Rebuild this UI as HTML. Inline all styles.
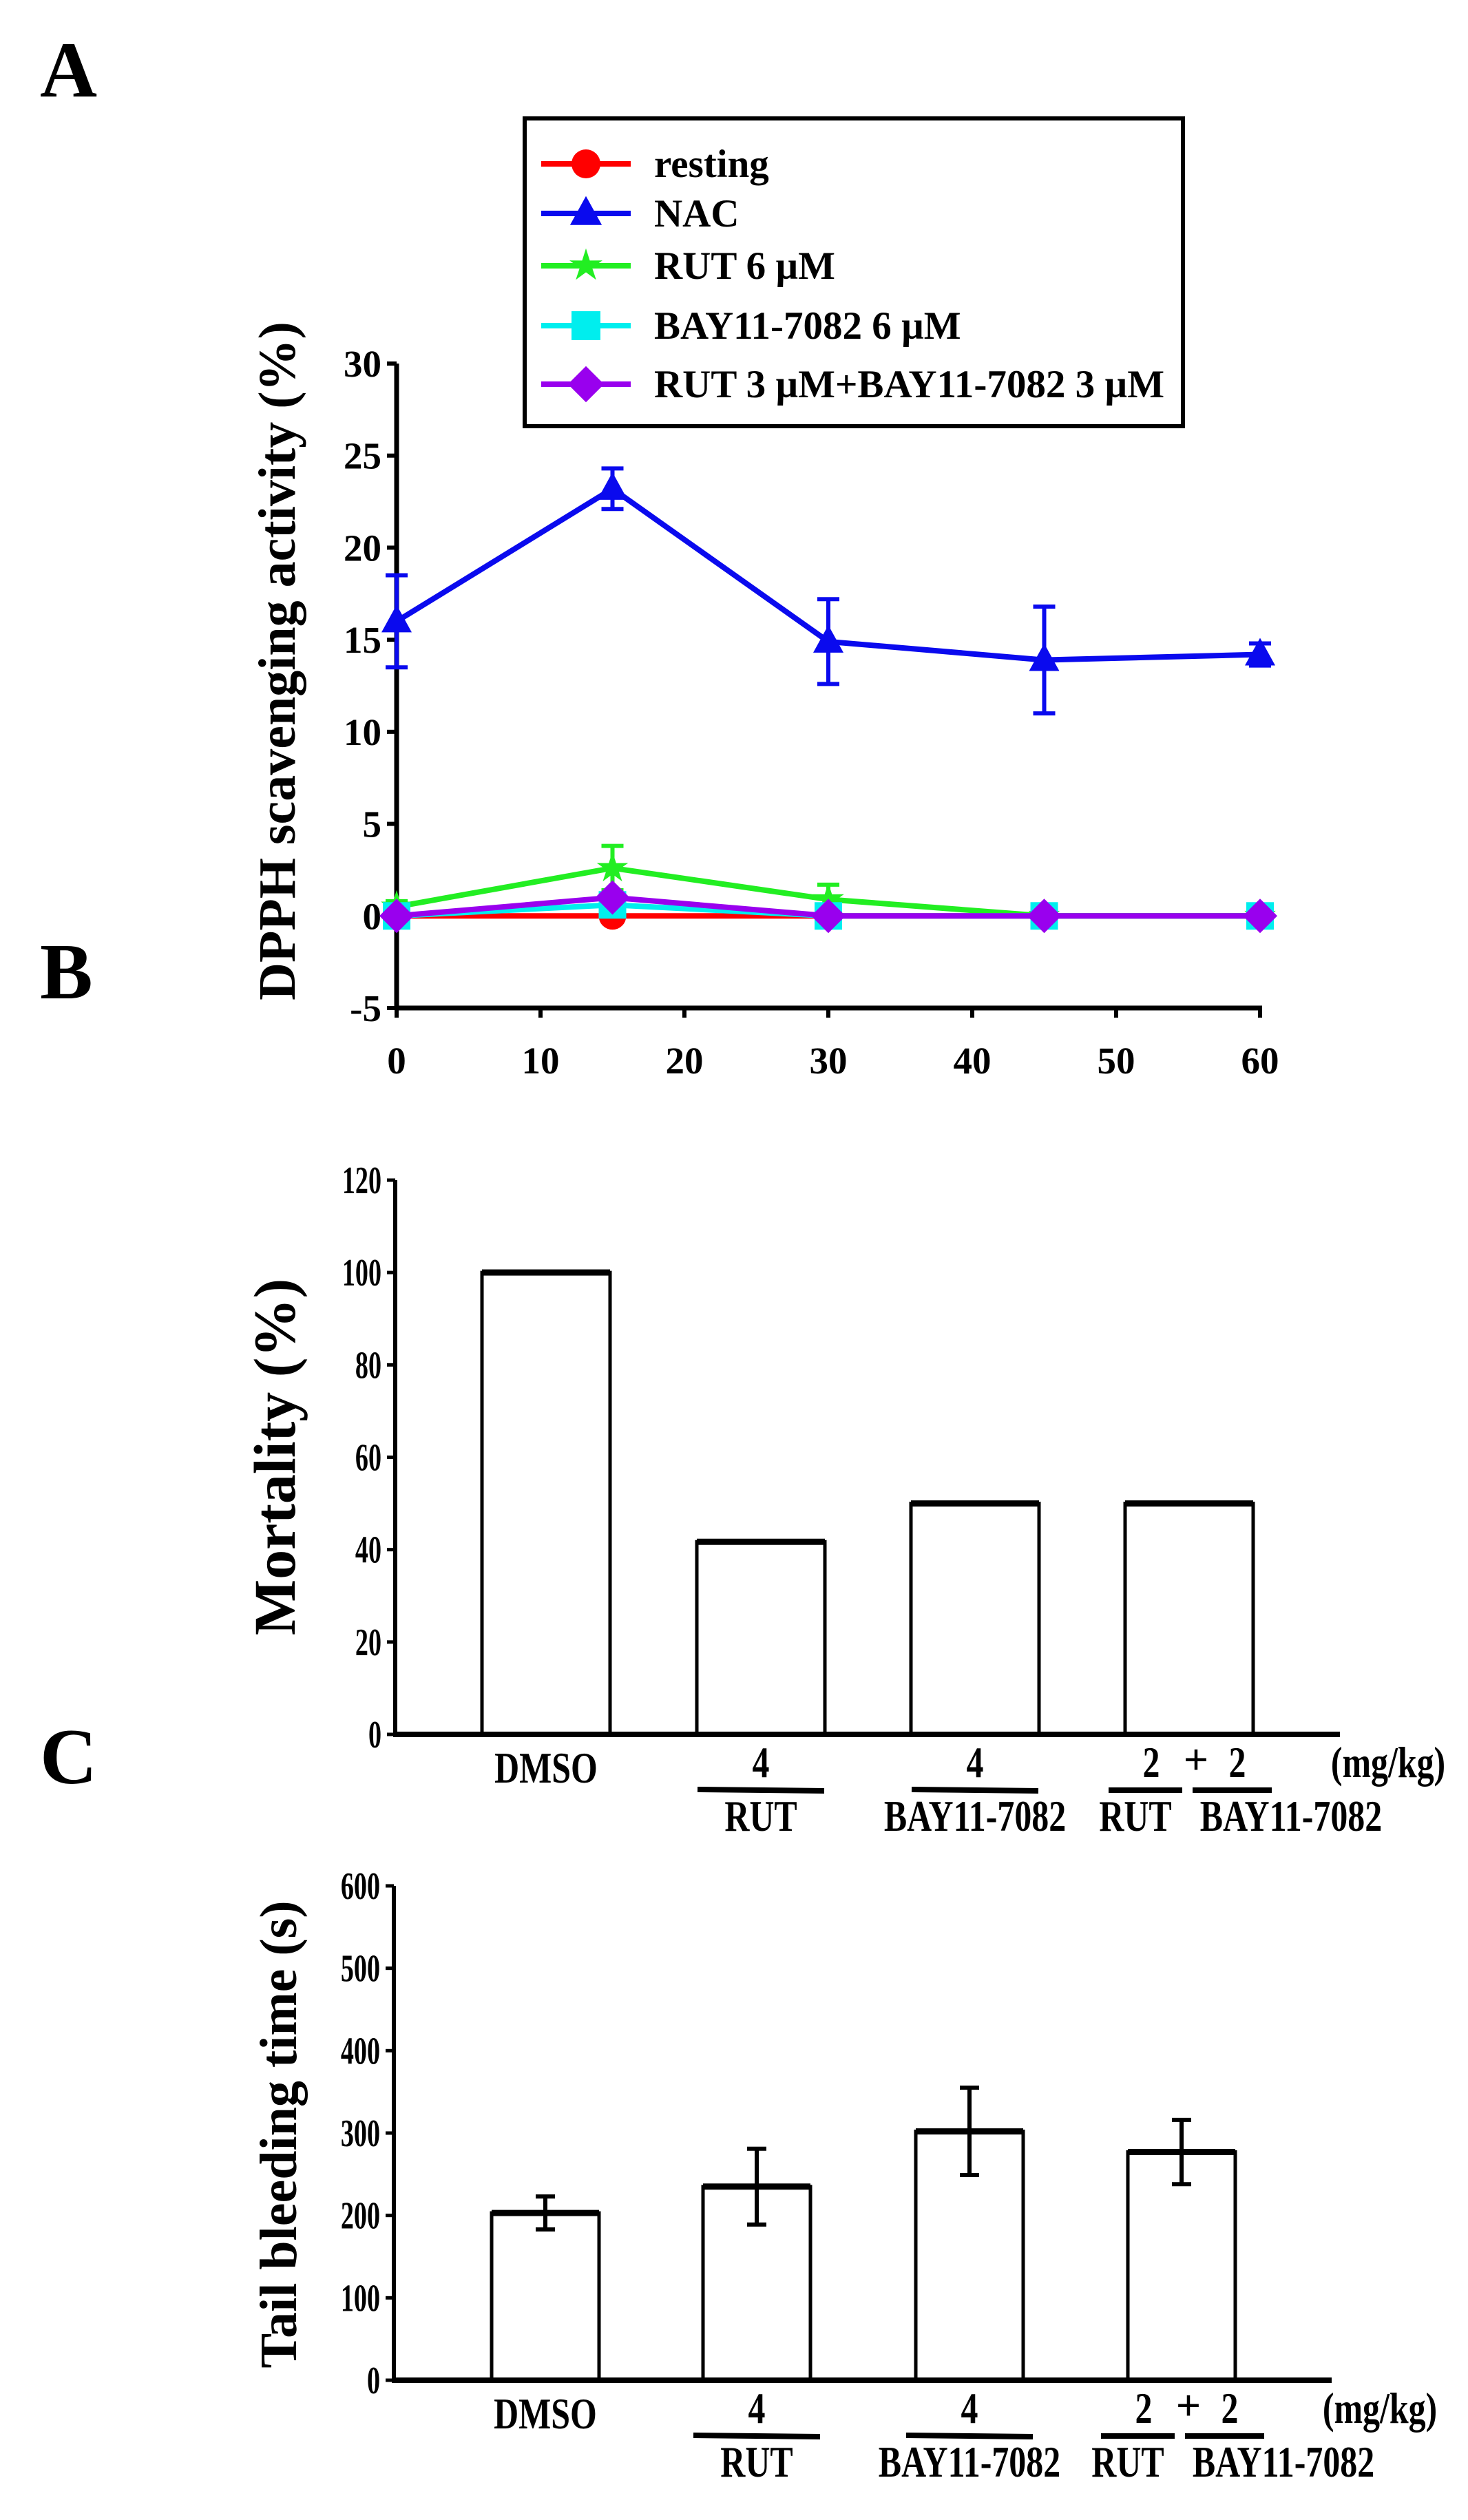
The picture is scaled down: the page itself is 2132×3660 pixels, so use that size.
<!DOCTYPE html>
<html><head><meta charset="utf-8">
<style>
html,body{margin:0;padding:0;background:#fff;}
svg{display:block;font-family:"Liberation Serif",serif;font-weight:bold;}
</style></head>
<body>
<svg id="fig" width="2132" height="3660" viewBox="0 0 2132 3660" xmlns="http://www.w3.org/2000/svg">
<rect width="2132" height="3660" fill="#fff"/>
<text x="58" y="140" font-size="115">A</text>
<text x="58" y="1450" font-size="115">B</text>
<text x="58" y="2590" font-size="115">C</text>
<g id="gA"></g>
<g id="gB"></g>
<g id="gC"></g>
</svg>
<script>
// Panel A data
const timesA = [0, 15, 30, 45, 60];
const xTicksA = [0, 10, 20, 30, 40, 50, 60];
const yTicksA = [-5, 0, 5, 10, 15, 20, 25, 30];
const seriesNames = ["resting", "NAC", "RUT 6 \u00b5M", "BAY11-7082 6 \u00b5M", "RUT 3 \u00b5M+BAY11-7082 3 \u00b5M"];
const restingVals = [0, 0, 0, 0, 0];
const nacVals = [16, 23.2, 14.9, 13.9, 14.2];
const nacErr = [2.5, 1.1, 2.3, 2.9, 0.6];
const rutVals = [0.5, 2.6, 0.9, 0, 0];
const rutErr = [0.3, 1.2, 0.8, 0, 0];
const bayVals = [0, 0.6, 0, 0, 0];
const comboVals = [0, 1.0, 0, 0, 0];
// Panel B data
const categoriesB = ["DMSO", "RUT", "BAY11-7082", "RUT+BAY11-7082"];
const mortalityVals = [100, 41.7, 50, 50];
const yTicksB = [0, 20, 40, 60, 80, 100, 120];
// Panel C data
const bleedVals = [203, 235, 302, 277];
const bleedErr = [20, 46, 53, 39];
const yTicksC = [0, 100, 200, 300, 400, 500, 600];

const NS = "http://www.w3.org/2000/svg";
function mk(parent, tag, attrs, txt){
  const e = document.createElementNS(NS, tag);
  for (const k in attrs) e.setAttribute(k, attrs[k]);
  if (txt !== undefined) e.textContent = txt;
  parent.appendChild(e);
  return e;
}

// ---------- Panel A ----------
(function(){
  const g = document.getElementById('gA');
  const x0 = 576, x1 = 1830, ymin = -5, ymax = 30, yTop = 528, yBot = 1464;
  const X = t => x0 + (t - 0) / 60 * (x1 - x0);
  const Y = v => yBot - (v - ymin) / (ymax - ymin) * (yBot - yTop);
  let e;
  e = mk(g, 'line', {x1:x0, y1:yTop, x2:x0, y2:yBot, stroke:'#000', 'stroke-width':7});
   
  e = mk(g, 'line', {x1:x0-3, y1:yBot, x2:x1+3, y2:yBot, stroke:'#000', 'stroke-width':7});
   
  yTicksA.forEach(v => {
    mk(g, 'line', {x1:x0-14, y1:Y(v), x2:x0, y2:Y(v), stroke:'#000', 'stroke-width':6});
    e = mk(g, 'text', {x:x0-22, y:Y(v)+19, 'font-size':55, 'text-anchor':'end'}, v);
     
  });
  xTicksA.forEach(t => {
    mk(g, 'line', {x1:X(t), y1:yBot, x2:X(t), y2:yBot+14, stroke:'#000', 'stroke-width':6});
    e = mk(g, 'text', {x:X(t), y:yBot+95, 'font-size':55, 'text-anchor':'middle'}, t);
     
  });
  e = mk(g, 'text', {x:0, y:0, 'font-size':76, 'text-anchor':'middle', transform:'translate(428,960) rotate(-90)'}, 'DPPH scavenging activity (%)');
   

  function marker(parent, type, cx, cy, col, s){
    if (type==='circle') return mk(parent,'circle',{cx:cx,cy:cy,r:s,fill:col});
    if (type==='tri') return mk(parent,'polygon',{points:`${cx},${cy-s*1.2} ${cx-s*1.1},${cy+s*0.8} ${cx+s*1.1},${cy+s*0.8}`,fill:col});
    if (type==='square') return mk(parent,'rect',{x:cx-s,y:cy-s,width:2*s,height:2*s,fill:col});
    if (type==='diamond') return mk(parent,'polygon',{points:`${cx},${cy-s*1.25} ${cx+s*1.25},${cy} ${cx},${cy+s*1.25} ${cx-s*1.25},${cy}`,fill:col});
    if (type==='star'){
      let p=[]; for(let i=0;i<10;i++){const r=i%2?s*0.45:s*1.2;const a=-Math.PI/2+i*Math.PI/5;p.push((cx+r*Math.cos(a))+','+(cy+r*Math.sin(a)));}
      return mk(parent,'polygon',{points:p.join(' '),fill:col});
    }
  }
  const series = [
    {name:'resting', vals:restingVals, err:null, col:'#ff0000', m:'circle'},
    {name:'rut', vals:rutVals, err:rutErr, col:'#22ee22', m:'star'},
    {name:'bay', vals:bayVals, err:null, col:'#00eeee', m:'square'},
    {name:'combo', vals:comboVals, err:null, col:'#9900ee', m:'diamond'},
    {name:'nac', vals:nacVals, err:nacErr, col:'#0a0aee', m:'tri'}
  ];
  series.forEach(s => {
    const sg = mk(g, 'g', {});
     
    if (s.err) timesA.forEach((t,i) => {
      if (!s.err[i]) return;
      const yt = Y(s.vals[i]+s.err[i]), yb = Y(s.vals[i]-s.err[i]);
      mk(sg,'line',{x1:X(t),y1:yt,x2:X(t),y2:yb,stroke:s.col,'stroke-width':6});
      mk(sg,'line',{x1:X(t)-16,y1:yt,x2:X(t)+16,y2:yt,stroke:s.col,'stroke-width':6});
      mk(sg,'line',{x1:X(t)-16,y1:yb,x2:X(t)+16,y2:yb,stroke:s.col,'stroke-width':6});
    });
    const pts = timesA.map((t,i)=>X(t)+','+Y(s.vals[i])).join(' ');
    mk(sg,'polyline',{points:pts,fill:'none',stroke:s.col,'stroke-width':8});
    timesA.forEach((t,i)=>{
      const p = marker(sg, s.m, X(t), Y(s.vals[i]), s.col, 20);
       
    });
  });
  // legend
  const lg = mk(g,'g',{});
   
  mk(lg,'rect',{x:762,y:172,width:956,height:447,fill:'#fff',stroke:'#000','stroke-width':6});
  const lcols = ['#ff0000','#0a0aee','#22ee22','#00eeee','#9900ee'];
  const lm = ['circle','tri','star','square','diamond'];
  const rows = [238,310,386,473,558];
  seriesNames.forEach((n,i)=>{
    const eg = mk(lg,'g',{});
     
    mk(eg,'line',{x1:786,y1:rows[i],x2:916,y2:rows[i],stroke:lcols[i],'stroke-width':8});
    marker(eg,lm[i],851,rows[i],lcols[i],21);
    mk(eg,'text',{x:950,y:rows[i]+19,'font-size':57},n);
  });
})();

// ---------- bar panels ----------
function barPanel(gid, vals, errs, ticks, ymax, yTop, yBot, x0, xEnd, barL, barW, title, titleX, titleY, titleFs, label) {
  const g = document.getElementById(gid);
  const Y = v => yBot - v / ymax * (yBot - yTop);
  let e;
  e = mk(g,'line',{x1:x0,y1:yTop,x2:x0,y2:yBot,stroke:'#000','stroke-width':6});
   
  ticks.forEach(v=>{
    mk(g,'line',{x1:x0-12,y1:Y(v),x2:x0,y2:Y(v),stroke:'#000','stroke-width':5});
    e = mk(g,'text',{x:x0-20,y:Y(v)+19,'font-size':56,'text-anchor':'end',transform:`translate(${x0-20},0) scale(0.68,1) translate(${-(x0-20)},0)`},v);
     
  });
  vals.forEach((v,i)=>{
    const bx = barL[i];
    if (errs) {
      const c = bx + barW/2, yt = Y(v+errs[i]), yb = Y(v-errs[i]);
      mk(g,'line',{x1:c,y1:yt,x2:c,y2:yb,stroke:'#000','stroke-width':6});
      mk(g,'line',{x1:c-14,y1:yt,x2:c+14,y2:yt,stroke:'#000','stroke-width':6});
      mk(g,'line',{x1:c-14,y1:yb,x2:c+14,y2:yb,stroke:'#000','stroke-width':6});
    }
    e = mk(g,'rect',{x:bx,y:Y(v),width:barW,height:yBot-Y(v),fill:'none',stroke:'#000','stroke-width':5});
     
    mk(g,'line',{x1:bx,y1:Y(v),x2:bx+barW,y2:Y(v),stroke:'#000','stroke-width':9});
  });
  e = mk(g,'line',{x1:x0-3,y1:yBot,x2:xEnd,y2:yBot,stroke:'#000','stroke-width':8});
   
  e = mk(g,'text',{x:0,y:0,'font-size':titleFs,'text-anchor':'middle',transform:`translate(${titleX},${titleY}) rotate(-90)`},title);
   
  // category labels
  const base = yBot;
  const cg = mk(g,'g',{'font-size':64});
   
  const c = barL.map(b=>b+barW/2);
  const sc = (x)=>`translate(${x},0) scale(0.78,1) translate(${-x},0)`;
  mk(cg,'text',{x:c[0],y:base+70,'text-anchor':'middle',transform:sc(c[0])},'DMSO');
  mk(cg,'text',{x:c[1],y:base+62,'text-anchor':'middle',transform:sc(c[1])},'4');
  mk(cg,'line',{x1:c[1]-92,y1:base+80,x2:c[1]+92,y2:base+82,stroke:'#000','stroke-width':8});
  mk(cg,'text',{x:c[1],y:base+140,'text-anchor':'middle',transform:sc(c[1])},'RUT');
  mk(cg,'text',{x:c[2],y:base+62,'text-anchor':'middle',transform:sc(c[2])},'4');
  mk(cg,'line',{x1:c[2]-92,y1:base+80,x2:c[2]+92,y2:base+82,stroke:'#000','stroke-width':8});
  mk(cg,'text',{x:c[2],y:base+140,'text-anchor':'middle',transform:sc(c[2])},'BAY11-7082');
  mk(cg,'text',{x:c[3]-55,y:base+62,'text-anchor':'middle',transform:sc(c[3]-55)},'2');
  mk(cg,'text',{x:c[3]+10,y:base+58,'text-anchor':'middle'},'+');
  mk(cg,'text',{x:c[3]+70,y:base+62,'text-anchor':'middle',transform:sc(c[3]+70)},'2');
  mk(cg,'line',{x1:c[3]-117,y1:base+81,x2:c[3]-10,y2:base+81,stroke:'#000','stroke-width':8});
  mk(cg,'line',{x1:c[3]+5,y1:base+81,x2:c[3]+120,y2:base+81,stroke:'#000','stroke-width':8});
  mk(cg,'text',{x:c[3]-78,y:base+140,'text-anchor':'middle',transform:sc(c[3]-78)},'RUT');
  mk(cg,'text',{x:c[3]+148,y:base+140,'text-anchor':'middle',transform:sc(c[3]+148)},'BAY11-7082');
  mk(cg,'text',{x:xEnd+70,y:base+62,'text-anchor':'middle',transform:sc(xEnd+70)},'(mg/kg)');
}
barPanel('gB', mortalityVals, null, yTicksB, 120, 1714, 2519, 574, 1946, [700,1012,1323,1634], 186, 'Mortality (%)', 428, 2116, 86, 'b');
barPanel('gC', bleedVals, bleedErr, yTicksC, 600, 2739, 3457, 572, 1934, [714,1021,1330,1638], 156, 'Tail bleeding time (s)', 430, 3100, 76, 'c');
</script>
</body></html>
